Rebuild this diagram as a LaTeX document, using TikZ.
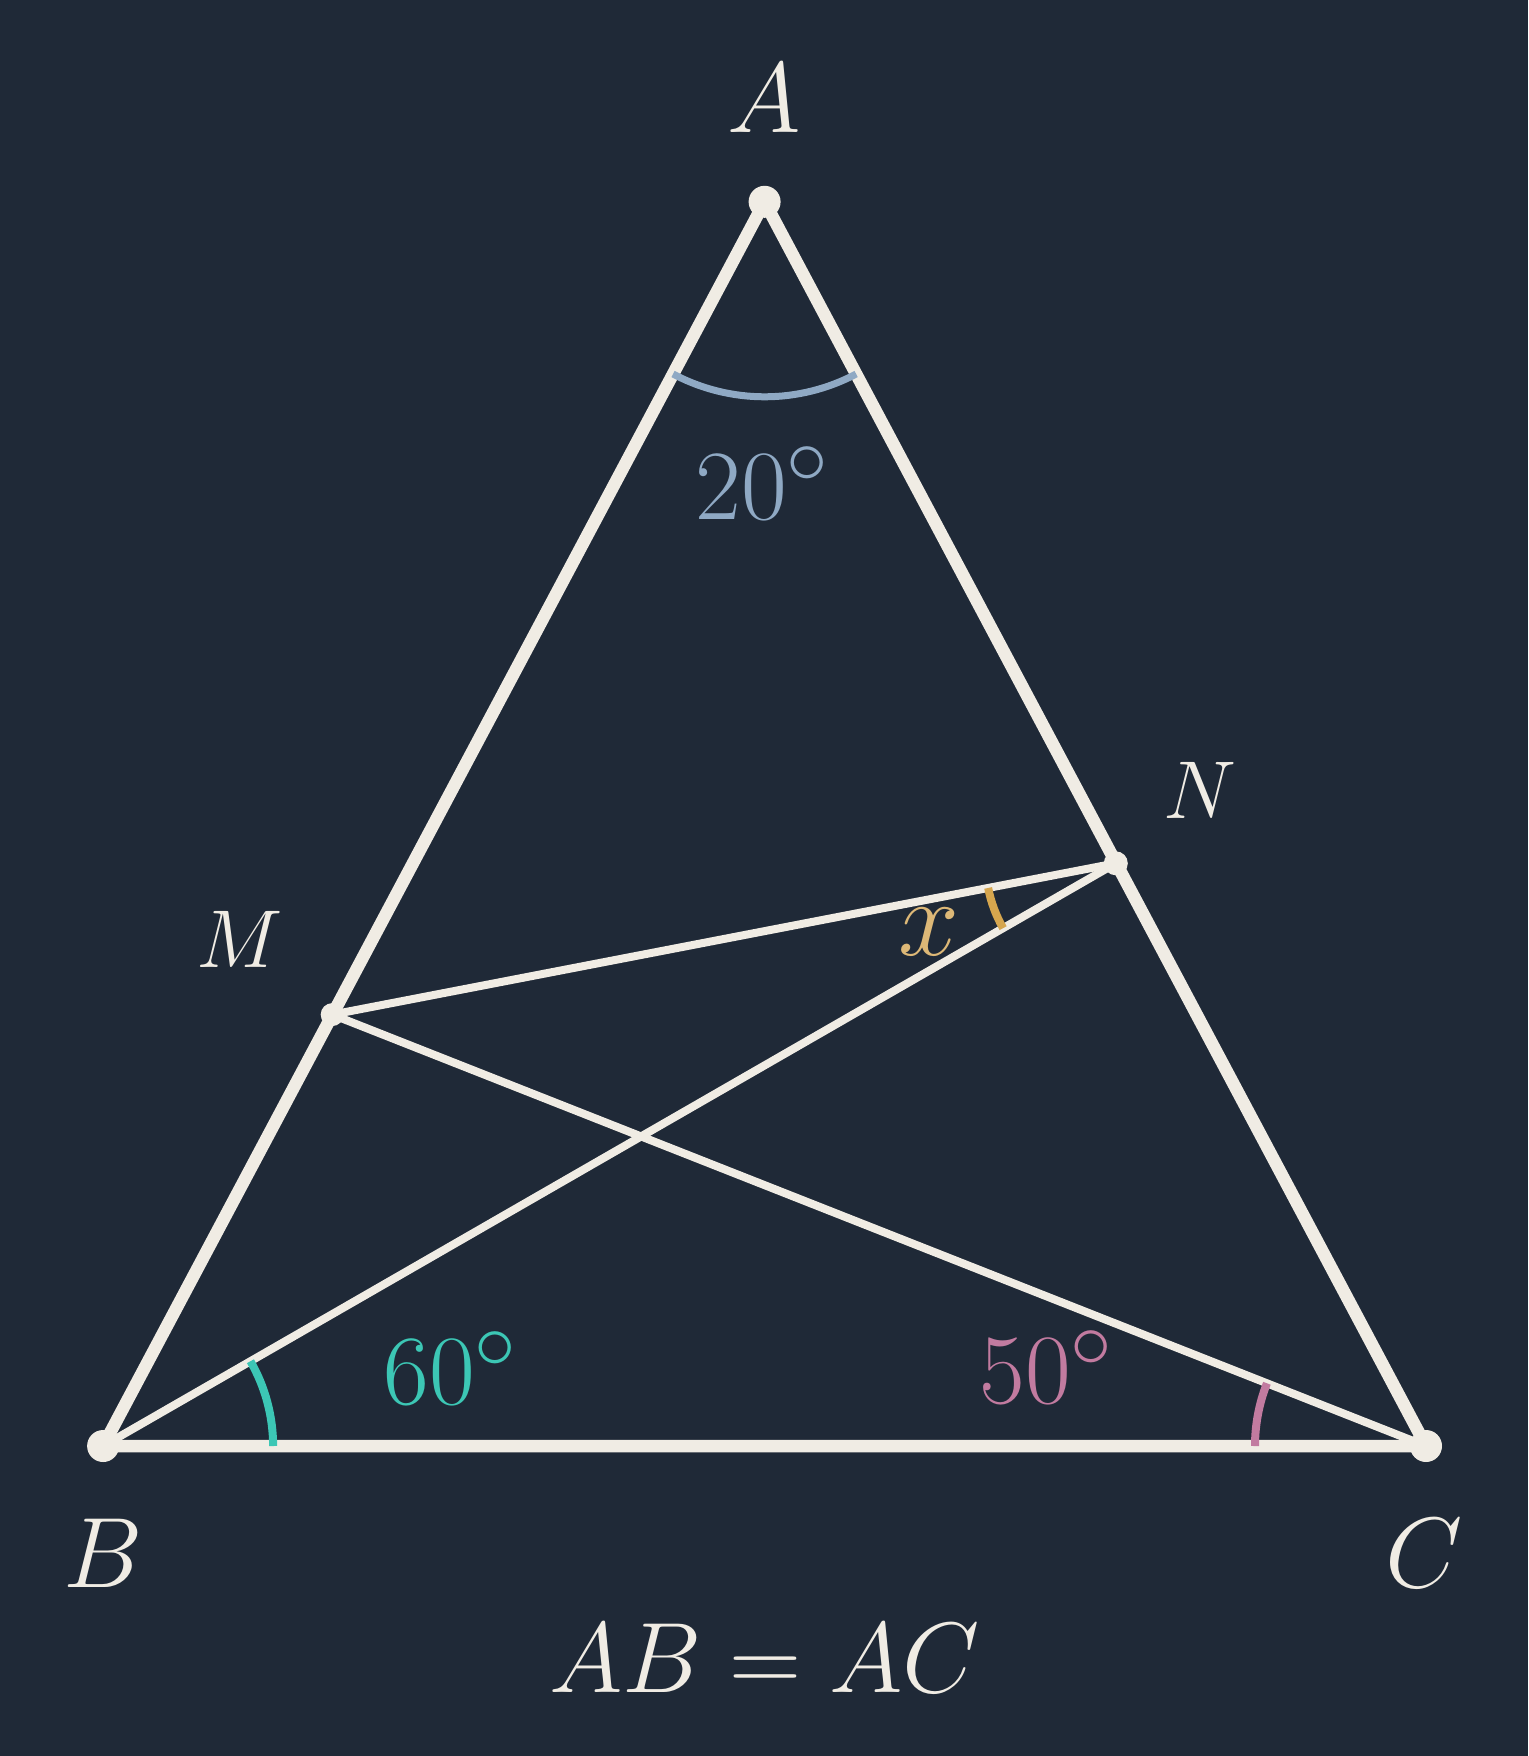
\documentclass[tikz,border=0pt]{standalone}
\usepackage{tikz}
\usetikzlibrary{angles}

\definecolor{bgslate}{HTML}{1F2937}
\definecolor{chalk}{HTML}{F0ECE4}
\definecolor{steelarc}{HTML}{8FA9C4}
\definecolor{tealarc}{HTML}{3CC7B5}
\definecolor{pinkarc}{HTML}{C27BA0}
\definecolor{goldarc}{HTML}{D6A64E}
\definecolor{goldtxt}{HTML}{DDB877}

\tikzset{
  side/.style={draw=chalk, line width=6.25pt, line join=round},
  cevian/.style={draw=chalk, line width=4pt, line join=round},
  markarc/.style={line width=4pt},
  bigtxt/.style={text=chalk, font=\Huge, scale=2.01},
  smalltxt/.style={text=chalk, font=\Huge, scale=1.65},
  degtxt/.style={font=\Huge, scale=2.0},
}

\begin{document}
\begin{tikzpicture}[x=0.5pt, y=-0.5pt]

\fill[bgslate] (0,0) rectangle (1528,1756);
\useasboundingbox (0,0) rectangle (1528,1756);

\coordinate (A) at (764.6, 201.8);
\coordinate (B) at (103.1, 1446);
\coordinate (C) at (1426, 1446);
\coordinate (M) at (332.2, 1014.6);
\coordinate (N) at (1115.8, 863.3);

\draw[side] (A) -- (B) -- (C) -- cycle;
\draw[cevian] (M) -- (N);
\draw[cevian] (M) -- (C);
\draw[cevian] (B) -- (N);

\pic[draw=steelarc, line width=3.5pt, angle radius=97.5pt] {angle = B--A--C};
\pic[draw=tealarc, markarc, angle radius=85pt] {angle = C--B--N};
\pic[draw=pinkarc, markarc, angle radius=85.5pt] {angle = M--C--B};
\pic[draw=goldarc, markarc, angle radius=65pt] {angle = M--N--B};

\fill[chalk] (A) circle (8pt);
\fill[chalk] (B) circle (8pt);
\fill[chalk] (C) circle (8pt);
\fill[chalk] (M) circle (5.75pt);
\fill[chalk] (N) circle (6pt);

\node[bigtxt] (lblA) at (764.6, 98.7) {$A$};
\node[bigtxt] (lblB) at (103, 1553.5) {$B$};
\node[bigtxt] (lblC) at (1423.8, 1553.5) {$C$};
\node[smalltxt] (lblM) at (240, 939.5) {$M$};
\node[smalltxt] (lblN) at (1199.6, 790.4) {$N$};

\node[degtxt, text=steelarc] (ang20) at (763, 483) {$20^\circ$};
\node[degtxt, text=tealarc] (ang60) at (451, 1368) {$60^\circ$};
\node[degtxt, text=pinkarc] (ang50) at (1047, 1367) {$50^\circ$};
\node[degtxt, text=goldtxt, scale=1.1] (angx) at (928.7, 931.5) {$x$};

\node[bigtxt] (eqn) at (764.6, 1658.6) {$AB = AC$};

\end{tikzpicture}
\end{document}
